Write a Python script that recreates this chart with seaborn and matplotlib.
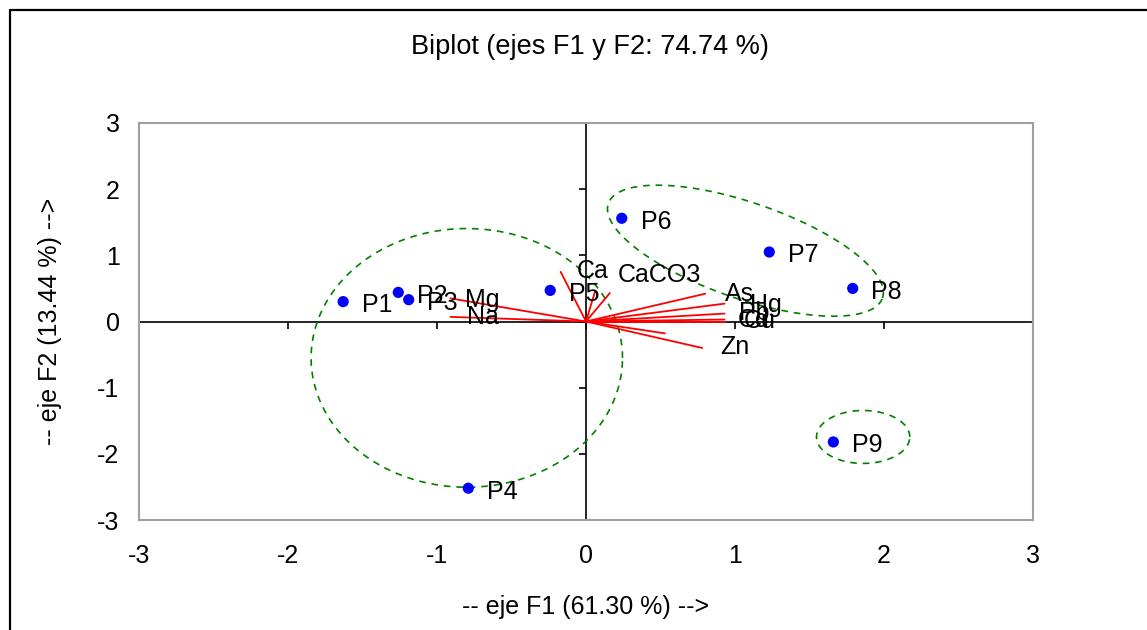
import numpy as np
import pandas as pd
import matplotlib
matplotlib.use("Agg")
import matplotlib.pyplot as plt
from matplotlib.lines import Line2D
import seaborn as sns

# Observations (factor scores on F1 / F2)
obs_names = ["P1", "P2", "P3", "P4", "P5", "P6", "P7", "P8", "P9"]
obs_f1 = [-1.63, -1.26, -1.19, -0.79, -0.24, 0.24, 1.23, 1.79, 1.66]
obs_f2 = [0.30, 0.44, 0.33, -2.52, 0.47, 1.56, 1.05, 0.50, -1.82]

# Variables (loading vectors)
var_f1 = [-0.91, -0.91, -0.17, 0.16, 0.06, 0.80, 0.93, 0.93, 0.93, 0.93, 0.53, 0.78]
var_f2 = [0.35, 0.07, 0.75, 0.43, 0.45, 0.42, 0.27, 0.12, 0.03, 0.00, -0.18, -0.40]

# Variable labels and where they sit
var_labels = ["Mg", "Na", "Ca", "CaCO3", "As", "Hg", "Pb", "Cd", "Cu", "Zn"]
lab_f1 = [-0.81, -0.80, -0.06, 0.21, 0.93, 1.10, 1.03, 1.02, 1.06, 0.90]
lab_f2 = [0.33, 0.07, 0.77, 0.71, 0.41, 0.25, 0.13, 0.03, 0.00, -0.39]

# Group ellipses: centre and the two half-axis vectors
ell_cx = [-0.80, 1.07, 1.86]
ell_cy = [-0.55, 1.07, -1.745]
ell_ax = [1.045, 0.920, 0.313]
ell_ay = [0.0, -0.714, 0.0]
ell_bx = [0.0, 0.105, 0.0]
ell_by = [1.955, 0.686, 0.40]

ticks = [-3, -2, -1, 0, 1, 2, 3]

title = "Biplot (ejes F1 y F2: 74.74 %)"
xlabel = "-- eje F1 (61.30 %) -->"
ylabel = "-- eje F2 (13.44 %) -->"

sns.set_theme(style="white")
plt.rcParams['font.family'] = ['Liberation Sans', 'DejaVu Sans']
plt.rcParams['text.color'] = 'black'
plt.rcParams['xtick.color'] = 'black'
plt.rcParams['ytick.color'] = 'black'
fs = 18

fig = plt.figure(figsize=(11.47, 6.3), dpi=100)
W, H = 1147, 630
ax = fig.add_axes([139 / W, 1 - 520 / H, (1033 - 139) / W, (520 - 123) / H])

ax.set_xlim(-3, 3)
ax.set_ylim(-3, 3)
ax.set_xticks(ticks)
ax.set_yticks(ticks)
ax.set_xticklabels([str(t) for t in ticks], fontsize=fs, color='black')
ax.set_yticklabels([str(t) for t in ticks], fontsize=fs, color='black')
ax.tick_params(axis='x', length=0, pad=17)
ax.tick_params(axis='y', length=0, pad=14)
for sp in ax.spines.values():
    sp.set_color('#a0a0a0')
    sp.set_linewidth(1.5)

# axes through the origin with their small ticks
ax.plot([-3, 3], [0, 0], color='black', lw=1.2, zorder=2)
ax.plot([0, 0], [-3, 3], color='black', lw=1.2, zorder=2)
ax.plot(ticks, [0] * len(ticks), linestyle='none', marker=3, markersize=5,
        markeredgewidth=1.2, color='black', clip_on=False, zorder=2)
ax.plot([0] * len(ticks), ticks, linestyle='none', marker=0, markersize=5,
        markeredgewidth=1.2, color='black', clip_on=False, zorder=2)

# ellipses around groups
t = np.linspace(0, 2 * np.pi, 300)
for cx, cy, axx, ayy, bxx, byy in zip(ell_cx, ell_cy, ell_ax, ell_ay, ell_bx, ell_by):
    ex = cx + axx * np.cos(t) + bxx * np.sin(t)
    ey = cy + ayy * np.cos(t) + byy * np.sin(t)
    ax.plot(ex, ey, color='#008000', lw=1.2, linestyle=(0, (4, 3.5)), zorder=3)

# loading vectors
for vx, vy in zip(var_f1, var_f2):
    ax.plot([0, vx], [0, vy], color='red', lw=1.3, zorder=4)
for name, lx, ly in zip(var_labels, lab_f1, lab_f2):
    ax.text(lx, ly, name, fontsize=fs, ha='left', va='center', color='black', zorder=6)

# observations
df = pd.DataFrame({"F1": obs_f1, "F2": obs_f2, "name": obs_names})
sns.scatterplot(data=df, x="F1", y="F2", color='blue', s=65, edgecolor='none',
                ax=ax, zorder=5, legend=False)
for name, x, y in zip(obs_names, obs_f1, obs_f2):
    ax.annotate(name, (x, y), xytext=(13.5, -2.5), textcoords='offset points',
                fontsize=fs, ha='left', va='center', color='black', zorder=6)

ax.set_xlabel("")
ax.set_ylabel("")
fig.text(586 / W, 1 - 607 / H, xlabel, fontsize=fs, ha='center', va='center', color='black')
fig.text(50 / W, 1 - 321 / H, ylabel, fontsize=fs, ha='center', va='center',
         rotation=90, color='black')
fig.text(590 / W, 1 - 47 / H, title, fontsize=19.5, ha='center', va='center', color='black')

# outer chart frame (top and left edges visible)
fig.add_artist(Line2D([10 / W, 1.0], [1 - 10 / H, 1 - 10 / H], transform=fig.transFigure,
                      color='black', lw=1.6))
fig.add_artist(Line2D([10 / W, 10 / W], [0.0, 1 - 10 / H], transform=fig.transFigure,
                      color='black', lw=1.6))

fig.savefig("out.png", dpi=100)
